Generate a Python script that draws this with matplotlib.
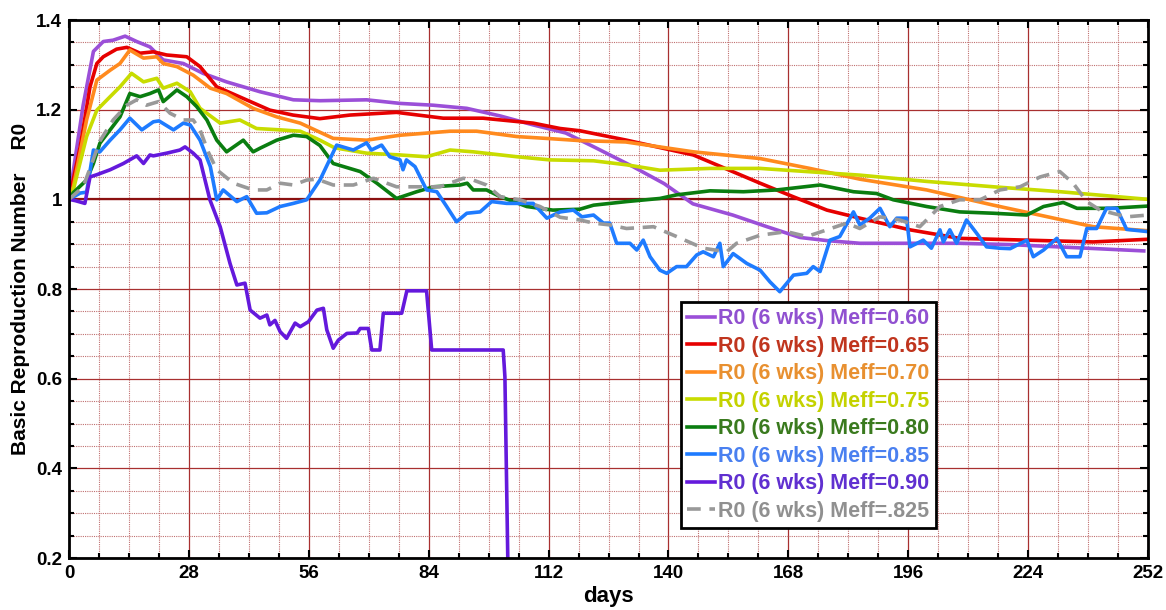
import matplotlib

matplotlib.use("Agg")
import matplotlib.pyplot as plt
from matplotlib.ticker import MultipleLocator, FormatStrFormatter

plt.rcParams["font.family"] = ["Liberation Sans", "DejaVu Sans"]
plt.rcParams["font.weight"] = "bold"

# R0 (6 week window) for several Meff values
m60_days = [0, 3.3, 5.7, 8, 10.3, 13.1, 15.8, 18.9, 22, 26.7, 31.3, 36.8, 44.6, 52.4, 58.6, 69.5, 77.3, 85,
            92.9, 100.7, 108.4, 116, 123, 131.7, 139, 145.7, 155, 163, 170.7, 177, 184.7, 196, 208, 220, 231,
            240, 251]
m60_r = [1.0, 1.21, 1.33, 1.352, 1.355, 1.364, 1.352, 1.34, 1.311, 1.303, 1.281, 1.262, 1.24, 1.222, 1.22,
         1.222, 1.214, 1.21, 1.203, 1.186, 1.166, 1.148, 1.115, 1.073, 1.035, 0.99, 0.965, 0.939, 0.915, 0.908,
         0.902, 0.902, 0.902, 0.899, 0.894, 0.89, 0.885]

m65_days = [0, 2.6, 4.9, 6.5, 8, 11.1, 13.5, 16.6, 19.7, 22.8, 27.5, 30.6, 34.5, 40.7, 46.9, 52.3, 58.6, 65.6,
            76.5, 87.4, 96.7, 108.4, 114.7, 119.3, 130.2, 145.8, 161.4, 169.1, 177, 184.7, 196.4, 208, 223.7,
            239.2, 252]
m65_r = [1.0, 1.117, 1.251, 1.303, 1.318, 1.335, 1.339, 1.326, 1.329, 1.322, 1.318, 1.296, 1.251, 1.225, 1.199,
         1.188, 1.18, 1.188, 1.194, 1.181, 1.181, 1.17, 1.158, 1.153, 1.132, 1.099, 1.036, 1.006, 0.976, 0.958,
         0.932, 0.913, 0.909, 0.905, 0.911]

m70_days = [0, 1, 4.1, 6.5, 9.6, 11.9, 14.2, 17.4, 20.5, 22, 25.2, 29, 33, 36.8, 43, 48.5, 54, 61.7, 69.5, 77.3,
            89, 95.2, 104.6, 113, 119.3, 130, 145.8, 161.4, 173, 184.7, 200.3, 215.9, 227.6, 239.2, 252]
m70_r = [1.0, 1.028, 1.177, 1.266, 1.288, 1.303, 1.333, 1.315, 1.318, 1.303, 1.296, 1.277, 1.248, 1.236, 1.203,
         1.184, 1.17, 1.136, 1.132, 1.143, 1.152, 1.152, 1.14, 1.135, 1.131, 1.128, 1.106, 1.091, 1.069, 1.045,
         1.021, 0.987, 0.963, 0.939, 0.93]

m75_days = [0, 1, 4.1, 6.5, 9.6, 11.9, 14.6, 17.4, 20.5, 22, 25.2, 28.3, 30.6, 35.3, 39.9, 43.8, 49.3, 54, 58.6,
            62, 69.5, 77.3, 83.5, 89, 94.4, 104.6, 112.3, 122.5, 130.2, 138, 149.7, 161.4, 169.1, 184.7, 200.3,
            215.9, 231.5, 252]
m75_r = [1.0, 1.021, 1.14, 1.199, 1.229, 1.251, 1.281, 1.262, 1.27, 1.248, 1.259, 1.24, 1.203, 1.17, 1.177,
         1.158, 1.155, 1.152, 1.132, 1.115, 1.103, 1.099, 1.095, 1.11, 1.106, 1.095, 1.088, 1.086, 1.077, 1.065,
         1.069, 1.069, 1.064, 1.054, 1.04, 1.028, 1.017, 1.0]

m80_days = [0, 1, 4.1, 5.7, 7.2, 9.6, 11.9, 14.2, 16.6, 18.9, 20.9, 22, 25.2, 27.5, 29.8, 32.2, 34.5, 36.8, 40.7,
            43, 44.6, 48.5, 52.4, 55.5, 58.6, 61.7, 68, 71.9, 76.5, 81.2, 85.1, 91.3, 93, 94.4, 97.5, 100.7,
            106.9, 113, 119.3, 122.5, 130.2, 138, 141.9, 149.7, 157.5, 165.3, 175.4, 183.2, 188.6, 192.5, 200.3,
            208, 215.9, 223.7, 227.6, 232.2, 235.4, 243.2, 252]
m80_r = [1.0, 1.015, 1.043, 1.08, 1.125, 1.155, 1.184, 1.236, 1.229, 1.236, 1.244, 1.218, 1.244, 1.229, 1.207,
         1.177, 1.132, 1.106, 1.132, 1.106, 1.114, 1.132, 1.143, 1.14, 1.12, 1.08, 1.062, 1.036, 1.002, 1.017,
         1.028, 1.032, 1.036, 1.021, 1.021, 1.006, 0.984, 0.976, 0.978, 0.987, 0.995, 1.002, 1.01, 1.019, 1.017,
         1.021, 1.032, 1.017, 1.013, 0.999, 0.984, 0.972, 0.969, 0.965, 0.984, 0.993, 0.98, 0.98, 0.985]

m85_days = [0, 2.6, 4.1, 5.7, 7.2, 9.6, 11.9, 14.2, 17, 19.7, 21, 24.4, 26.7, 28.3, 30.6, 33, 34.5, 36, 39.2,
            41.5, 43.8, 46.2, 49.3, 52.4, 55.5, 58.6, 62.5, 66.4, 69.5, 70.6, 73, 74.9, 77.3, 78, 78.8, 80.8,
            83.5, 85.9, 88.2, 90.5, 92.9, 96, 98.7, 102.2, 108.4, 111.6, 114.7, 117.8, 119.8, 122.5, 124.8,
            126.3, 127.9, 131, 132.6, 134.1, 135.7, 138, 139.6, 141.9, 144.2, 146.6, 148.1, 150.5, 152, 152.8,
            155.1, 158.3, 161.4, 163.7, 166, 169.2, 172.3, 173.8, 175.4, 177.7, 180, 183.2, 184.7, 187, 189.4,
            191.7, 193.3, 195.6, 196.4, 199.5, 201.4, 203.4, 204.2, 205.7, 207.3, 209.6, 212, 214.3, 217.4,
            219.8, 223.7, 225.2, 227.6, 230.7, 233, 236.1, 237.7, 240, 242.3, 244.7, 247, 252]
m85_r = [1.0, 1.014, 1.016, 1.11, 1.106, 1.132, 1.155, 1.181, 1.155, 1.173, 1.175, 1.155, 1.17, 1.166, 1.132,
         1.073, 0.999, 1.021, 0.995, 1.006, 0.969, 0.97, 0.984, 0.991, 0.999, 1.043, 1.121, 1.11, 1.126, 1.11,
         1.121, 1.095, 1.088, 1.066, 1.088, 1.073, 1.021, 1.017, 0.984, 0.95, 0.969, 0.972, 0.995, 0.991, 0.991,
         0.958, 0.972, 0.976, 0.961, 0.965, 0.947, 0.947, 0.902, 0.902, 0.887, 0.909, 0.872, 0.842, 0.835, 0.85,
         0.85, 0.876, 0.883, 0.872, 0.902, 0.85, 0.879, 0.857, 0.842, 0.816, 0.794, 0.831, 0.835, 0.85, 0.839,
         0.909, 0.917, 0.972, 0.943, 0.958, 0.98, 0.939, 0.958, 0.958, 0.894, 0.909, 0.891, 0.932, 0.905, 0.932,
         0.902, 0.954, 0.924, 0.894, 0.891, 0.89, 0.909, 0.872, 0.887, 0.913, 0.872, 0.872, 0.935, 0.935, 0.98,
         0.98, 0.933, 0.928]

m90_days = [0, 1.5, 3.7, 4.9, 6.5, 9.6, 12.7, 15.8, 17.4, 18.9, 19.7, 22.8, 25.9, 27.1, 29, 30.6, 32.9, 35.3,
            37.6, 39.2, 41.1, 42.3, 44.6, 46.2, 46.9, 48.1, 49.3, 50.8, 52.8, 54, 55.9, 57.9, 59.4, 60.2, 61.7,
            62.9, 64.9, 67.3, 68, 69.9, 70.7, 72.6, 73.4, 77.7, 78.9, 83.5, 84.7, 101.4, 101.8, 102.8]
m90_r = [1.0, 0.997, 0.991, 1.05, 1.055, 1.066, 1.08, 1.097, 1.08, 1.099, 1.097, 1.103, 1.11, 1.117, 1.103,
         1.088, 0.999, 0.939, 0.857, 0.809, 0.813, 0.753, 0.735, 0.742, 0.72, 0.73, 0.705, 0.69, 0.724, 0.716,
         0.727, 0.753, 0.757, 0.709, 0.668, 0.686, 0.701, 0.702, 0.712, 0.712, 0.664, 0.664, 0.746, 0.746, 0.796,
         0.796, 0.664, 0.664, 0.604, 0.0]

m825_days = [0, 3.3, 5.7, 7.2, 10.3, 13.5, 15.8, 18.1, 20.9, 23.6, 26.7, 29, 30.6, 32.5, 34.5, 38.4, 43, 46.2,
             49.3, 52.4, 55.5, 57.9, 61.7, 66.4, 71.1, 76.5, 82, 86.6, 92.1, 94.4, 97.5, 100.7, 105.3, 110, 114.7,
             119.3, 122.5, 126.3, 130.2, 136.5, 141.9, 148.1, 153.6, 155.9, 161.4, 167.6, 172.3, 177, 181.6,
             184.7, 189.4, 194, 198.7, 203.4, 208, 212.8, 217.4, 222.1, 226.8, 231.4, 234.5, 237.7, 240.8, 247,
             252]
m825_r = [1.0, 1.028, 1.09, 1.13, 1.177, 1.21, 1.222, 1.21, 1.218, 1.192, 1.177, 1.177, 1.155, 1.106, 1.066,
          1.036, 1.021, 1.021, 1.036, 1.032, 1.043, 1.045, 1.032, 1.032, 1.047, 1.028, 1.028, 1.028, 1.047, 1.043,
          1.032, 1.006, 0.999, 0.984, 0.96, 0.954, 0.947, 0.943, 0.935, 0.939, 0.917, 0.891, 0.883, 0.902, 0.92,
          0.928, 0.917, 0.932, 0.947, 0.935, 0.961, 0.954, 0.939, 0.984, 0.999, 0.999, 1.021, 1.028, 1.05, 1.062,
          1.036, 0.995, 0.976, 0.961, 0.965]

series = [
    ("R0 (6 wks) Meff=0.60", m60_days, m60_r, "#9b4fd8", "#9050d0", "-"),
    ("R0 (6 wks) Meff=0.65", m65_days, m65_r, "#e60000", "#c0351e", "-"),
    ("R0 (6 wks) Meff=0.70", m70_days, m70_r, "#ff8a1e", "#e89030", "-"),
    ("R0 (6 wks) Meff=0.75", m75_days, m75_r, "#c8dc00", "#c4d200", "-"),
    ("R0 (6 wks) Meff=0.80", m80_days, m80_r, "#0a7d10", "#3a7a1e", "-"),
    ("R0 (6 wks) Meff=0.85", m85_days, m85_r, "#1e7bff", "#4a80f0", "-"),
    ("R0 (6 wks) Meff=0.90", m90_days, m90_r, "#6419dc", "#6030d0", "-"),
    ("R0 (6 wks) Meff=.825", m825_days, m825_r, "#999999", "#909090", "--"),
]

fig = plt.figure(figsize=(11.66, 6.10), dpi=100)
ax = fig.add_axes([0.0592, 0.0852, 0.9254, 0.8820])

ax.set_xlim(0, 252)
ax.set_ylim(0.2, 1.4)
ax.xaxis.set_major_locator(MultipleLocator(28))
ax.xaxis.set_minor_locator(MultipleLocator(7))
ax.yaxis.set_major_locator(MultipleLocator(0.2))
ax.yaxis.set_minor_locator(MultipleLocator(0.05))
ax.yaxis.set_major_formatter(FormatStrFormatter("%g"))

ax.grid(which="minor", color="#c07070", linestyle=(0, (1, 1)), linewidth=0.8)
ax.grid(which="major", color="#a83030", linestyle="-", linewidth=0.9)
ax.set_axisbelow(True)
ax.axhline(1.0, color="#8b1010", linewidth=1.6, zorder=1.5)

for label, d, r, c, tc, ls in series:
    if ls == "--":
        ax.plot(d, r, color=c, lw=2.6, linestyle=(0, (3.8, 2.4)), label=label)
    else:
        ax.plot(d, r, color=c, lw=2.6, label=label)

ax.tick_params(which="both", direction="in", top=True, right=True, width=1.5, labelsize=13.5)
ax.tick_params(which="major", length=6, pad=5)
ax.tick_params(which="minor", length=3.5)
for sp in ax.spines.values():
    sp.set_linewidth(2)

ax.set_xlabel("days", fontsize=16, fontweight="bold", labelpad=3)
ax.set_ylabel("Basic Reproduction Number    R0", fontsize=15, fontweight="bold", labelpad=4)

leg = ax.legend(loc="upper left", bbox_to_anchor=(0.567, 0.476), fontsize=15.5, handlelength=1.3,
                handletextpad=0.12, labelspacing=0.3, borderpad=0.3, borderaxespad=0, fancybox=False,
                framealpha=1, edgecolor="black")
leg.get_frame().set_linewidth(2)
for txt, s in zip(leg.get_texts(), series):
    txt.set_color(s[4])
    txt.set_fontweight("bold")

fig.savefig("out.png", dpi=100)
